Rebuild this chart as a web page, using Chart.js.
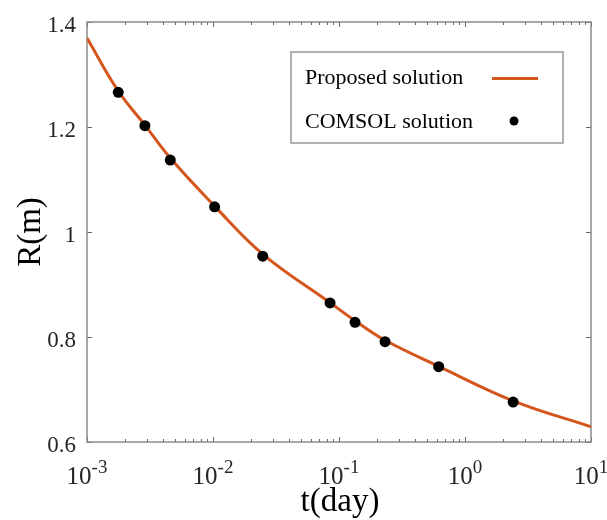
<!DOCTYPE html>
<html>
<head>
<meta charset="utf-8">
<script src="https://cdn.jsdelivr.net/npm/chart.js@4.4.1/dist/chart.umd.min.js"></script>
<style>
html, body { margin: 0; padding: 0; background: #fff; }
#wrap { width: 607px; height: 520px; }
</style>
</head>
<body>
<div id="wrap"><canvas id="chart" width="607" height="520"></canvas></div>
<script>
// values
const curveT = [0.001, 0.00177, 0.00288, 0.00458, 0.0103, 0.0248, 0.0849, 0.134, 0.232, 0.618, 2.41, 10];
const curveR = [1.3695, 1.2685, 1.2037, 1.1408, 1.0493, 0.9578, 0.8653, 0.8310, 0.7938, 0.7442, 0.6785, 0.6291];
const comsolT = [0.00177, 0.00288, 0.00458, 0.0103, 0.0248, 0.0849, 0.134, 0.232, 0.618, 2.41];
const comsolR = [1.266, 1.2025, 1.137, 1.048, 0.954, 0.865, 0.828, 0.791, 0.7435, 0.676];
const seriesNames = ["Proposed solution", "COMSOL solution"];
const xTickValues = [0.001, 0.01, 0.1, 1, 10];
const xTickExponents = ["-3", "-2", "-1", "0", "1"];
const yTickValues = [0.6, 0.8, 1, 1.2, 1.4];
const yTickLabels = ["0.6", "0.8", "1", "1.2", "1.4"];
const xTitle = "t(day)";
const yTitle = "R(m)";

const FONT = "'Liberation Serif', 'Times New Roman', serif";
const LINE_COLOR = "#D5561C";

// MATLAB-like box, inward ticks, labels and the legend
const matlabAxes = {
    id: "matlabAxes",
    beforeDatasetsDraw(chart) {
        const ctx = chart.ctx;
        const a = chart.chartArea;
        const xs = chart.scales.x;
        const ys = chart.scales.y;
        ctx.save();
        ctx.strokeStyle = "#666";
        ctx.lineWidth = 1;
        ctx.beginPath();
        // x ticks, major and minor, top and bottom
        xTickValues.forEach((v, i) => {
            const px = Math.round(xs.getPixelForValue(v)) + 0.5;
            ctx.moveTo(px, a.bottom); ctx.lineTo(px, a.bottom - 5);
            ctx.moveTo(px, a.top); ctx.lineTo(px, a.top + 5);
            if (i < xTickValues.length - 1) {
                for (let k = 2; k <= 9; k++) {
                    const mx = Math.round(xs.getPixelForValue(v * k)) + 0.5;
                    ctx.moveTo(mx, a.bottom); ctx.lineTo(mx, a.bottom - 3);
                    ctx.moveTo(mx, a.top); ctx.lineTo(mx, a.top + 3);
                }
            }
        });
        yTickValues.forEach(v => {
            const py = Math.round(ys.getPixelForValue(v)) + 0.5;
            ctx.moveTo(a.left, py); ctx.lineTo(a.left + 5, py);
            ctx.moveTo(a.right, py); ctx.lineTo(a.right - 5, py);
        });
        ctx.stroke();
        ctx.strokeStyle = "#8c8c8c";
        ctx.lineWidth = 1.5;
        ctx.strokeRect(a.left, a.top, a.right - a.left, a.bottom - a.top);
        ctx.restore();
    },
    afterDraw(chart) {
        const ctx = chart.ctx;
        const a = chart.chartArea;
        const xs = chart.scales.x;
        const ys = chart.scales.y;
        ctx.save();
        ctx.fillStyle = "#262626";
        // y tick labels
        ctx.font = "23px " + FONT;
        ctx.textAlign = "right";
        ctx.textBaseline = "alphabetic";
        yTickValues.forEach((v, i) => {
            ctx.fillText(yTickLabels[i], a.left - 11, ys.getPixelForValue(v) + 10);
        });
        // x tick labels 10^n
        ctx.textAlign = "left";
        xTickValues.forEach((v, i) => {
            const px = xs.getPixelForValue(v);
            ctx.font = "25px " + FONT;
            const w1 = ctx.measureText("10").width;
            ctx.font = "19px " + FONT;
            const w2 = ctx.measureText(xTickExponents[i]).width;
            const x0 = px - (w1 + w2) / 2;
            ctx.font = "25px " + FONT;
            ctx.fillText("10", x0, a.bottom + 42);
            ctx.font = "19px " + FONT;
            ctx.fillText(xTickExponents[i], x0 + w1, a.bottom + 31);
        });
        // axis titles
        ctx.fillStyle = "#000";
        ctx.font = "33px " + FONT;
        ctx.textAlign = "center";
        ctx.fillText(xTitle, (a.left + a.right) / 2 + 1, 511);
        ctx.save();
        ctx.translate(31, (a.top + a.bottom) / 2);
        ctx.rotate(-Math.PI / 2);
        ctx.textBaseline = "middle";
        ctx.fillText(yTitle, 0, 0);
        ctx.restore();
        // legend
        const line = chart.data.datasets[1];
        const dots = chart.data.datasets[0];
        ctx.fillStyle = "#fff";
        ctx.fillRect(291, 52, 272, 91);
        ctx.strokeStyle = "#999";
        ctx.lineWidth = 1.5;
        ctx.strokeRect(291, 52, 272, 91);
        ctx.fillStyle = "#000";
        ctx.font = "22px " + FONT;
        ctx.textAlign = "left";
        ctx.textBaseline = "alphabetic";
        ctx.fillText(line.label, 305, 84);
        ctx.fillText(dots.label, 305, 128);
        ctx.strokeStyle = line.borderColor;
        ctx.lineWidth = line.borderWidth;
        ctx.beginPath();
        ctx.moveTo(492, 78.5); ctx.lineTo(538, 78.5);
        ctx.stroke();
        ctx.fillStyle = dots.pointBackgroundColor;
        ctx.beginPath();
        ctx.arc(514, 121, 4.5, 0, Math.PI * 2);
        ctx.fill();
        ctx.restore();
    }
};

new Chart(document.getElementById("chart"), {
    type: "line",
    data: {
        datasets: [
            {
                label: seriesNames[1],
                data: comsolT.map((t, i) => ({ x: t, y: comsolR[i] })),
                showLine: false,
                pointRadius: 5.5,
                pointBackgroundColor: "#000",
                pointBorderWidth: 0,
                order: 0
            },
            {
                label: seriesNames[0],
                data: curveT.map((t, i) => ({ x: t, y: curveR[i] })),
                borderColor: LINE_COLOR,
                borderWidth: 3,
                pointRadius: 0,
                tension: 0.4,
                fill: false,
                order: 1
            }
        ]
    },
    options: {
        responsive: false,
        animation: false,
        devicePixelRatio: 1,
        layout: { padding: { left: 0, right: 16, top: 22, bottom: 0 } },
        plugins: { legend: { display: false }, tooltip: { enabled: false } },
        scales: {
            x: {
                type: "logarithmic",
                min: 0.001,
                max: 10,
                grid: { display: false },
                border: { display: false },
                ticks: { display: false },
                afterFit(s) { s.height = 78; }
            },
            y: {
                type: "linear",
                min: 0.6,
                max: 1.4,
                grid: { display: false },
                border: { display: false },
                ticks: { display: false, stepSize: 0.2 },
                afterFit(s) { s.width = 87; }
            }
        }
    },
    plugins: [matlabAxes]
});
</script>
</body>
</html>
